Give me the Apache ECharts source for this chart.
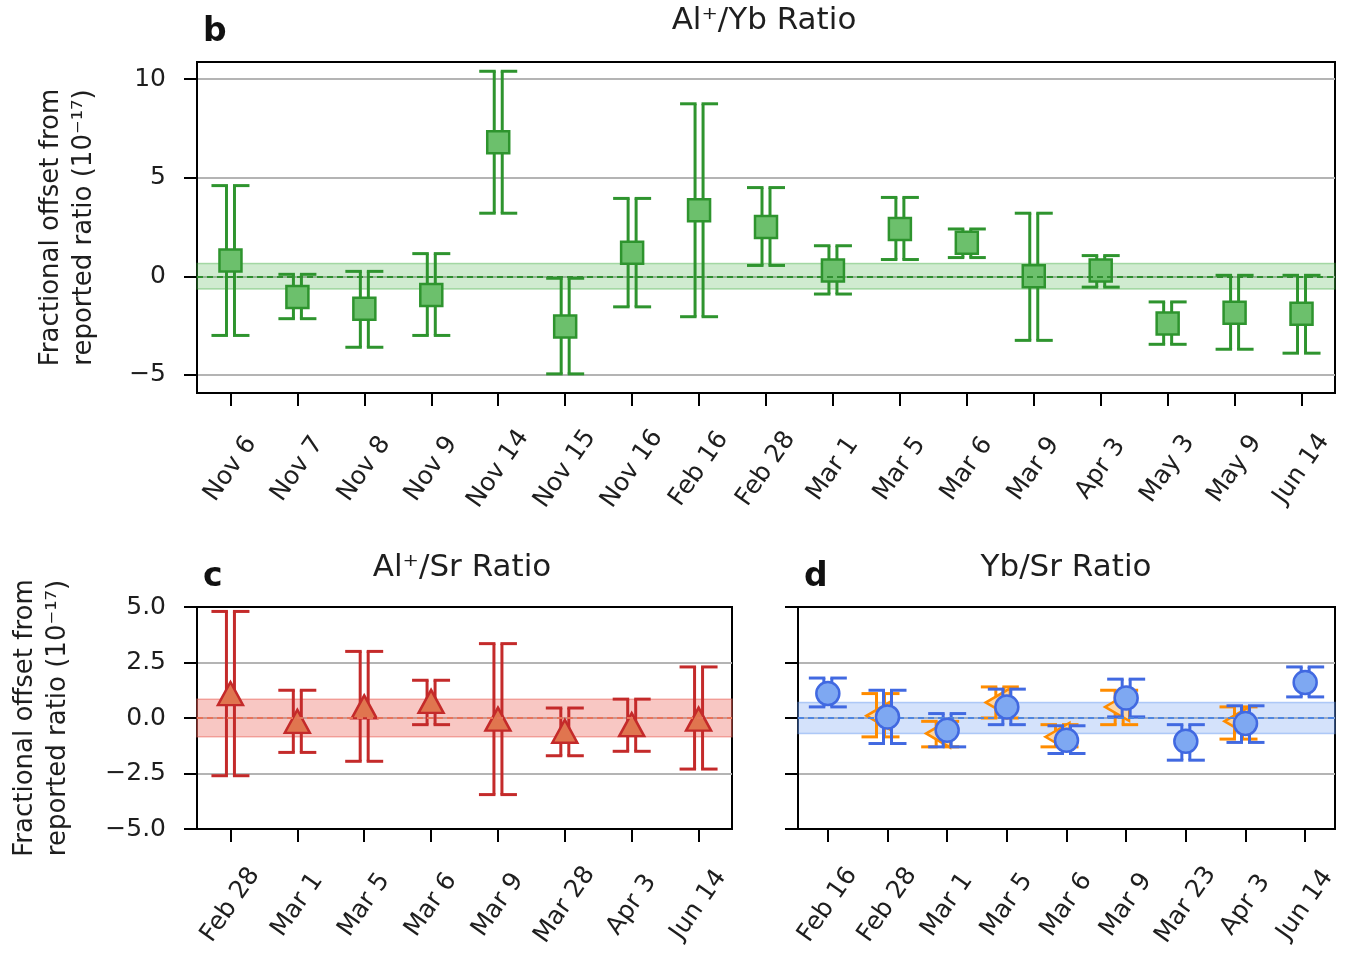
<!DOCTYPE html>
<html><head><meta charset="utf-8">
<script src="https://cdn.jsdelivr.net/npm/echarts@6/dist/echarts.min.js"></script>
<style>html,body{margin:0;padding:0;background:#fff}#c{width:1346px;height:961px}</style>
</head><body><div id="c"></div><script>
// ---------- data ----------
const alYbCats = ['Nov 6','Nov 7','Nov 8','Nov 9','Nov 14','Nov 15','Nov 16','Feb 16','Feb 28','Mar 1','Mar 5','Mar 6','Mar 9','Apr 3','May 3','May 9','Jun 14'];
const alYbValue = [0.8, -1.05, -1.65, -0.95, 6.8, -2.55, 1.2, 3.35, 2.5, 0.3, 2.4, 1.7, 0.0, 0.3, -2.4, -1.85, -1.9];
const alYbLow   = [-3.0, -2.15, -3.6, -3.0, 3.2, -4.95, -1.55, -2.05, 0.55, -0.9, 0.85, 0.95, -3.25, -0.55, -3.45, -3.7, -3.9];
const alYbHigh  = [4.6, 0.1, 0.25, 1.15, 10.4, -0.1, 3.95, 8.75, 4.5, 1.55, 4.0, 2.4, 3.2, 1.05, -1.3, 0.05, 0.05];
const alYbBand = [-0.65, 0.65];
const alYbTicks = [-5, 0, 5, 10];

const alSrCats = ['Feb 28','Mar 1','Mar 5','Mar 6','Mar 9','Mar 28','Apr 3','Jun 14'];
const alSrValue = [1.1, -0.15, 0.5, 0.75, -0.05, -0.6, -0.3, -0.05];
const alSrLow   = [-2.6, -1.55, -1.95, -0.3, -3.45, -1.7, -1.5, -2.3];
const alSrHigh  = [4.8, 1.25, 3.0, 1.7, 3.35, 0.45, 0.85, 2.3];
const alSrBand = [-0.85, 0.85];

const ybSrCats = ['Feb 16','Feb 28','Mar 1','Mar 5','Mar 6','Mar 9','Mar 23','Apr 3','Jun 14'];
const ybSrValue = [1.1, 0.05, -0.55, 0.5, -1.0, 0.9, -1.05, -0.25, 1.6];
const ybSrLow   = [0.5, -1.15, -1.3, -0.3, -1.6, 0.05, -1.9, -1.1, 0.95];
const ybSrHigh  = [1.8, 1.25, 0.2, 1.3, -0.35, 1.75, -0.3, 0.55, 2.3];
const ybSrAltValue = [null, 0.1, -0.7, 0.7, -0.85, 0.5, null, -0.15, null];
const ybSrAltLow   = [null, -0.85, -1.3, 0.0, -1.3, -0.3, null, -0.95, null];
const ybSrAltHigh  = [null, 1.1, -0.15, 1.4, -0.3, 1.25, null, 0.5, null];
const ybSrBand = [-0.7, 0.7];
const lowerTicks = [-2.5, 0, 2.5];

// ---------- helpers ----------
const FF = 'DejaVu Sans';
const TXT = '#1e1e1e';
const TICKFS = 25;
const GRID_COLOR = '#b4b4b4';
function errData(v, lo, hi) {
  const out = [];
  for (let i = 0; i < v.length; i++) if (v[i] != null) out.push([i, lo[i], hi[i]]);
  return out;
}
function ptData(v) {
  const out = [];
  for (let i = 0; i < v.length; i++) if (v[i] != null) out.push([i, v[i]]);
  return out;
}
function errRender(color, dx) {
  return function (params, api) {
    const i = api.value(0);
    const pLo = api.coord([i, api.value(1)]);
    const pHi = api.coord([i, api.value(2)]);
    const x = pLo[0] + dx, g = 4, c = 15;
    const st = { stroke: color, lineWidth: 3, fill: null };
    const L = (x1, y1, x2, y2) => ({ type: 'line', shape: { x1, y1, x2, y2 }, style: st });
    return { type: 'group', children: [
      L(x - g, pLo[1], x - g, pHi[1]), L(x + g, pLo[1], x + g, pHi[1]),
      L(x - g - c, pHi[1], x - g + 1.5, pHi[1]), L(x + g - 1.5, pHi[1], x + g + c, pHi[1]),
      L(x - g - c, pLo[1], x - g + 1.5, pLo[1]), L(x + g - 1.5, pLo[1], x + g + c, pLo[1])
    ]};
  };
}
// horizontal grid lines at the tick values (drawn through the value axis scale)
function gridSeries(idx, n, ticks) {
  return {
    type: 'line', xAxisIndex: idx, yAxisIndex: idx, data: new Array(n).fill(null), z: 0,
    silent: true, symbol: 'none',
    markLine: { silent: true, symbol: 'none', label: { show: false }, z: 0,
      lineStyle: { color: GRID_COLOR, width: 2, type: 'solid', opacity: 1 },
      data: ticks.map(t => ({ yAxis: t })) }
  };
}
function bandSeries(idx, n, band, fill, edge, dash) {
  return {
    type: 'line', xAxisIndex: idx, yAxisIndex: idx, data: new Array(n).fill(null), z: 1,
    silent: true, symbol: 'none',
    markArea: { silent: true, itemStyle: { color: fill, borderColor: edge, borderWidth: 1.5 },
      data: [[{ yAxis: band[0] }, { yAxis: band[1] }]] },
    markLine: { silent: true, symbol: 'none', label: { show: false },
      lineStyle: { color: dash, width: 2, type: [6, 4], opacity: 1 }, data: [{ yAxis: 0 }] }
  };
}
function xAx(idx, cats) {
  return {
    type: 'category', gridIndex: idx, data: cats, boundaryGap: true,
    axisLine: { show: true, onZero: false, lineStyle: { color: '#000', width: 2 } },
    axisTick: { show: true, alignWithLabel: true, length: 13, lineStyle: { color: '#000', width: 2 } },
    axisLabel: { rotate: 55, interval: 0, fontSize: TICKFS, fontFamily: FF, color: TXT,
      align: 'center', verticalAlign: 'middle', margin: 76 },
    splitLine: { show: false }
  };
}
const fmtLow = v => (v < 0 ? '\u2212' : '') + Math.abs(v).toFixed(1);
const yName = 'Fractional offset from\nreported ratio (10\u207B\u00B9\u2077)';
const nameStyle = { fontSize: 26, fontFamily: FF, color: TXT, lineHeight: 33 };
const axLine = { show: true, lineStyle: { color: '#000', width: 2 } };

const chart = echarts.init(document.getElementById('c'), null, { renderer: 'canvas' });
chart.setOption({
  animation: false,
  backgroundColor: '#fff',
  grid: [
    { left: 197, top: 62, width: 1138, height: 331, show: true, borderColor: '#000', borderWidth: 2 },
    { left: 197, top: 607, width: 535, height: 222, show: true, borderColor: '#000', borderWidth: 2 },
    { left: 798, top: 607, width: 537, height: 222, show: true, borderColor: '#000', borderWidth: 2 }
  ],
  xAxis: [xAx(0, alYbCats), xAx(1, alSrCats), xAx(2, ybSrCats)],
  yAxis: [
    { type: 'value', gridIndex: 0, min: -5.92, max: 10.87, splitNumber: 3,
      name: yName, nameLocation: 'middle', nameGap: 96, nameRotate: 90, nameTextStyle: nameStyle,
      axisLine: axLine,
      axisTick: { show: true, length: 13, customValues: alYbTicks, lineStyle: { color: '#000', width: 2 } },
      axisLabel: { customValues: alYbTicks, fontSize: TICKFS, fontFamily: FF, color: TXT, margin: 31,
        formatter: v => (v < 0 ? '\u2212' : '') + Math.abs(v) },
      splitLine: { show: false } },
    { type: 'value', gridIndex: 1, min: -5, max: 5, interval: 2.5,
      name: yName, nameLocation: 'middle', nameGap: 122, nameRotate: 90, nameTextStyle: nameStyle,
      axisLine: axLine,
      axisTick: { show: true, length: 13, lineStyle: { color: '#000', width: 2 } },
      axisLabel: { fontSize: TICKFS, fontFamily: FF, color: TXT, margin: 31, formatter: fmtLow },
      splitLine: { show: false } },
    { type: 'value', gridIndex: 2, min: -5, max: 5, interval: 2.5,
      axisLine: axLine,
      axisTick: { show: true, length: 13, lineStyle: { color: '#000', width: 2 } },
      axisLabel: { show: false },
      splitLine: { show: false } }
  ],
  series: [
    gridSeries(0, alYbCats.length, alYbTicks),
    bandSeries(0, alYbCats.length, alYbBand, 'rgba(60,170,60,0.24)', 'rgba(60,170,60,0.4)', '#2f8f2f'),
    { type: 'custom', xAxisIndex: 0, yAxisIndex: 0, z: 2, silent: true,
      renderItem: errRender('#2e942e', 0), encode: { x: 0, y: [1, 2] },
      data: errData(alYbValue, alYbLow, alYbHigh) },
    { type: 'scatter', xAxisIndex: 0, yAxisIndex: 0, z: 3, silent: true,
      symbol: 'rect', symbolSize: 22,
      itemStyle: { color: '#6cc06c', borderColor: '#2e942e', borderWidth: 2.5, opacity: 1 },
      data: ptData(alYbValue) },

    gridSeries(1, alSrCats.length, lowerTicks),
    bandSeries(1, alSrCats.length, alSrBand, 'rgba(235,100,90,0.36)', 'rgba(235,100,90,0.5)', '#e8745a'),
    { type: 'custom', xAxisIndex: 1, yAxisIndex: 1, z: 2, silent: true,
      renderItem: errRender('#c42a2a', 0), encode: { x: 0, y: [1, 2] },
      data: errData(alSrValue, alSrLow, alSrHigh) },
    { type: 'scatter', xAxisIndex: 1, yAxisIndex: 1, z: 3, silent: true,
      symbol: 'triangle', symbolSize: [25, 23],
      itemStyle: { color: '#e0754f', borderColor: '#c42a2a', borderWidth: 2.5, opacity: 1 },
      data: ptData(alSrValue) },

    gridSeries(2, ybSrCats.length, lowerTicks),
    bandSeries(2, ybSrCats.length, ybSrBand, 'rgba(100,150,240,0.28)', 'rgba(100,150,240,0.45)', '#4f86e0'),
    { type: 'custom', xAxisIndex: 2, yAxisIndex: 2, z: 2, silent: true,
      renderItem: errRender('#ff8c00', -7), encode: { x: 0, y: [1, 2] },
      data: errData(ybSrAltValue, ybSrAltLow, ybSrAltHigh) },
    { type: 'scatter', xAxisIndex: 2, yAxisIndex: 2, z: 3, silent: true,
      symbol: 'triangle', symbolSize: [28, 24], symbolRotate: 90, symbolOffset: [-9, 0],
      itemStyle: { color: '#fdd8a6', borderColor: '#ff8c00', borderWidth: 2.5, opacity: 1 },
      data: ptData(ybSrAltValue) },
    { type: 'custom', xAxisIndex: 2, yAxisIndex: 2, z: 4, silent: true,
      renderItem: errRender('#4169e1', 0), encode: { x: 0, y: [1, 2] },
      data: errData(ybSrValue, ybSrLow, ybSrHigh) },
    { type: 'scatter', xAxisIndex: 2, yAxisIndex: 2, z: 5, silent: true,
      symbol: 'circle', symbolSize: 23,
      itemStyle: { color: '#7ea8f2', borderColor: '#4169e1', borderWidth: 2.5, opacity: 1 },
      data: ptData(ybSrValue) }
  ],
  graphic: [
    { type: 'text', x: 764, y: 21, style: { text: 'Al\u207A/Yb Ratio', fontSize: 31, fontFamily: FF, fill: TXT, align: 'center', verticalAlign: 'middle' } },
    { type: 'text', x: 203, y: 32, style: { text: 'b', fontSize: 33, fontWeight: 'bold', fontFamily: FF, fill: '#111', align: 'left', verticalAlign: 'middle' } },
    { type: 'text', x: 462, y: 568, style: { text: 'Al\u207A/Sr Ratio', fontSize: 31, fontFamily: FF, fill: TXT, align: 'center', verticalAlign: 'middle' } },
    { type: 'text', x: 203, y: 577, style: { text: 'c', fontSize: 33, fontWeight: 'bold', fontFamily: FF, fill: '#111', align: 'left', verticalAlign: 'middle' } },
    { type: 'text', x: 1066, y: 568, style: { text: 'Yb/Sr Ratio', fontSize: 31, fontFamily: FF, fill: TXT, align: 'center', verticalAlign: 'middle' } },
    { type: 'text', x: 804, y: 577, style: { text: 'd', fontSize: 33, fontWeight: 'bold', fontFamily: FF, fill: '#111', align: 'left', verticalAlign: 'middle' } }
  ]
});
</script></body></html>
